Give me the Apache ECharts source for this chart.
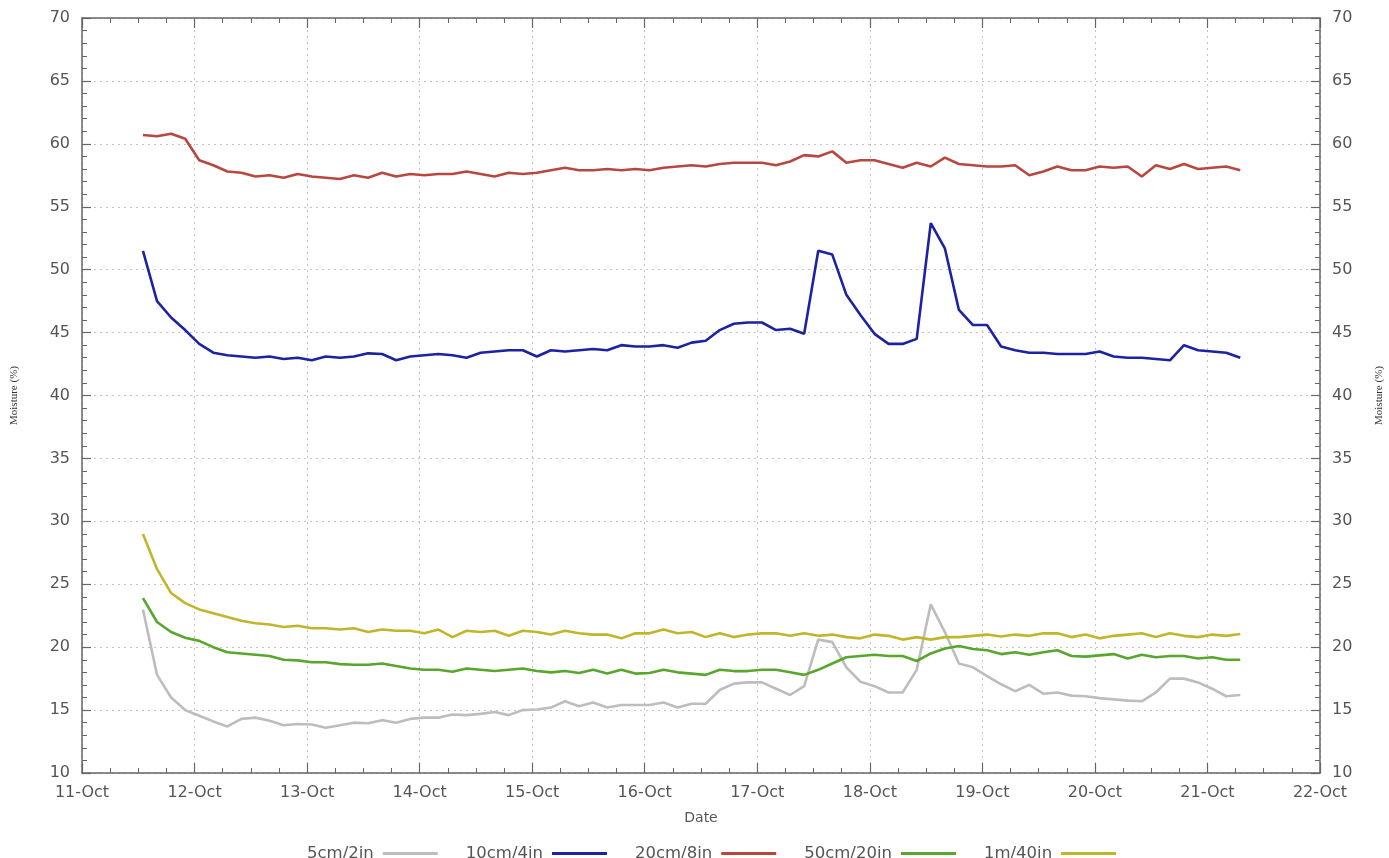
<!DOCTYPE html>
<html>
<head>
<meta charset="utf-8">
<script src="https://cdn.jsdelivr.net/npm/echarts@6/dist/echarts.min.js"></script>
<style>
  html, body { margin: 0; padding: 0; background: #fff; }
  #chart { width: 1389px; height: 858px; }
</style>
</head>
<body>
<div id="chart"></div>
<script>
  // samples every 3 hours, first one on 11-Oct 13:00
  const startDay = 11 + 13 / 24;
  const stepHours = 3;

  const dayTicks = ['11-Oct', '12-Oct', '13-Oct', '14-Oct', '15-Oct', '16-Oct',
    '17-Oct', '18-Oct', '19-Oct', '20-Oct', '21-Oct', '22-Oct'];

  const seriesNames = ['5cm/2in', '10cm/4in', '20cm/8in', '50cm/20in', '1m/40in'];
  const seriesColors = ['#bdbdbd', '#1c22a2', '#b8483f', '#58a62c', '#c1b62b'];

  const moist5cm = [
    23.0, 17.8, 16.0, 15.0, 14.55, 14.1, 13.7, 14.3, 14.4, 14.15,
    13.8, 13.9, 13.85, 13.6, 13.8, 14.0, 13.95, 14.2, 14.0, 14.3,
    14.4, 14.4, 14.65, 14.6, 14.7, 14.85, 14.6, 15.0, 15.05, 15.2,
    15.7, 15.3, 15.6, 15.2, 15.4, 15.4, 15.4, 15.6, 15.2, 15.5,
    15.5, 16.6, 17.1, 17.2, 17.2, 16.7, 16.2, 16.9, 20.6, 20.4,
    18.4, 17.25, 16.9, 16.4, 16.4, 18.2, 23.4, 21.2, 18.7, 18.4,
    17.7, 17.05, 16.5, 17.0, 16.3, 16.4, 16.15, 16.1, 15.95, 15.85,
    15.75, 15.7, 16.4, 17.5, 17.5, 17.2, 16.7, 16.1, 16.2
  ];
  const moist10cm = [
    51.5, 47.5, 46.2, 45.2, 44.1, 43.4, 43.2, 43.1, 43.0, 43.1,
    42.9, 43.0, 42.8, 43.1, 43.0, 43.1, 43.35, 43.3, 42.8, 43.1,
    43.2, 43.3, 43.2, 43.0, 43.4, 43.5, 43.6, 43.6, 43.1, 43.6,
    43.5, 43.6, 43.7, 43.6, 44.0, 43.9, 43.9, 44.0, 43.8, 44.2,
    44.35, 45.2, 45.7, 45.8, 45.8, 45.2, 45.3, 44.9, 51.5, 51.2,
    48.0, 46.4, 44.9, 44.1, 44.1, 44.5, 53.7, 51.7, 46.8, 45.6,
    45.6, 43.9, 43.6, 43.4, 43.4, 43.3, 43.3, 43.3, 43.5, 43.1,
    43.0, 43.0, 42.9, 42.8, 44.0, 43.6, 43.5, 43.4, 43.0
  ];
  const moist20cm = [
    60.7, 60.6, 60.8, 60.4, 58.7, 58.3, 57.8, 57.7, 57.4, 57.5,
    57.3, 57.6, 57.4, 57.3, 57.2, 57.5, 57.3, 57.7, 57.4, 57.6,
    57.5, 57.6, 57.6, 57.8, 57.6, 57.4, 57.7, 57.6, 57.7, 57.9,
    58.1, 57.9, 57.9, 58.0, 57.9, 58.0, 57.9, 58.1, 58.2, 58.3,
    58.2, 58.4, 58.5, 58.5, 58.5, 58.3, 58.6, 59.1, 59.0, 59.4,
    58.5, 58.7, 58.7, 58.4, 58.1, 58.5, 58.2, 58.9, 58.4, 58.3,
    58.2, 58.2, 58.3, 57.5, 57.8, 58.2, 57.9, 57.9, 58.2, 58.1,
    58.2, 57.4, 58.3, 58.0, 58.4, 58.0, 58.1, 58.2, 57.9
  ];
  const moist50cm = [
    23.9, 22.0, 21.2, 20.75, 20.5, 20.0, 19.6, 19.5, 19.4, 19.3,
    19.0, 18.95, 18.8, 18.8, 18.65, 18.6, 18.6, 18.7, 18.5, 18.3,
    18.2, 18.2, 18.05, 18.3, 18.2, 18.1, 18.2, 18.3, 18.1, 18.0,
    18.1, 17.95, 18.2, 17.9, 18.2, 17.9, 17.95, 18.2, 18.0, 17.9,
    17.8, 18.2, 18.1, 18.1, 18.2, 18.2, 18.0, 17.8, 18.2, 18.7,
    19.2, 19.3, 19.4, 19.3, 19.3, 18.9, 19.5, 19.9, 20.1, 19.85,
    19.75, 19.45, 19.6, 19.4, 19.6, 19.75, 19.3, 19.25, 19.35, 19.45,
    19.1, 19.4, 19.2, 19.3, 19.3, 19.1, 19.2, 19.0, 19.0
  ];
  const moist1m = [
    29.0, 26.2, 24.3, 23.5, 23.0, 22.7, 22.4, 22.1, 21.9, 21.8,
    21.6, 21.7, 21.5, 21.5, 21.4, 21.5, 21.2, 21.4, 21.3, 21.3,
    21.1, 21.4, 20.8, 21.3, 21.2, 21.3, 20.9, 21.3, 21.2, 21.0,
    21.3, 21.1, 21.0, 21.0, 20.7, 21.1, 21.1, 21.4, 21.1, 21.2,
    20.8, 21.1, 20.8, 21.0, 21.1, 21.1, 20.9, 21.1, 20.9, 21.0,
    20.8, 20.7, 21.0, 20.9, 20.6, 20.8, 20.6, 20.8, 20.8, 20.9,
    21.0, 20.85, 21.0, 20.9, 21.1, 21.1, 20.8, 21.0, 20.7, 20.9,
    21.0, 21.1, 20.8, 21.1, 20.9, 20.8, 21.0, 20.9, 21.05
  ];
  const allValues = [moist5cm, moist10cm, moist20cm, moist50cm, moist1m];

  const times = moist10cm.map((v, i) => startDay + i * stepHours / 24);

  const labelColor = '#555';
  const axisColor = '#666';

  function dayLabel(v) {
    const idx = Math.round(v) - 11;
    return dayTicks[idx] || '';
  }

  const xBase = {
    type: 'value',
    min: 11,
    max: 22,
    interval: 1,
    axisLine: { show: true, lineStyle: { color: axisColor, width: 1.5 } },
    axisTick: { show: true, inside: true, length: 10, lineStyle: { color: axisColor, width: 1.2 } },
    minorTick: { show: true, splitNumber: 4, length: 5, lineStyle: { color: axisColor, width: 1 } }
  };
  const yBase = {
    type: 'value',
    min: 10,
    max: 70,
    interval: 5,
    axisLine: { show: true, lineStyle: { color: axisColor, width: 1.5 } },
    axisTick: { show: true, inside: true, length: 9, lineStyle: { color: axisColor, width: 1.2 } },
    minorTick: { show: true, splitNumber: 5, length: 5, lineStyle: { color: axisColor, width: 1 } },
    axisLabel: { color: labelColor, fontSize: 16, fontFamily: 'DejaVu Sans', margin: 12 },
    name: 'Moisture (%)',
    nameLocation: 'middle',
    nameTextStyle: { color: '#333', fontSize: 11, fontFamily: 'Liberation Serif' }
  };

  const chart = echarts.init(document.getElementById('chart'));
  chart.setOption({
    animation: false,
    backgroundColor: '#fff',
    grid: { left: 82, right: 69, top: 18, bottom: 85, outerBoundsMode: 'none' },
    legend: {
      top: 840,
      left: 302,
      align: 'right',
      icon: 'rect',
      itemWidth: 55,
      itemHeight: 3,
      itemGap: 28,
      textStyle: { color: labelColor, fontSize: 16.5, fontFamily: 'DejaVu Sans', padding: [0, 4, 0, 0] },
      data: seriesNames
    },
    xAxis: [
      Object.assign({}, xBase, {
        position: 'bottom',
        axisLabel: { color: labelColor, fontSize: 16, fontFamily: 'DejaVu Sans', margin: 12, formatter: dayLabel },
        splitLine: { show: true, lineStyle: { color: '#c4c4c4', type: [2, 4], width: 1 } },
        name: 'Date',
        nameLocation: 'middle',
        nameGap: 38,
        nameTextStyle: { color: labelColor, fontSize: 14, fontFamily: 'DejaVu Sans' }
      }),
      Object.assign({}, xBase, {
        position: 'top',
        axisLabel: { show: false },
        splitLine: { show: false }
      })
    ],
    yAxis: [
      Object.assign({}, yBase, {
        position: 'left',
        nameGap: 62,
        splitLine: { show: true, lineStyle: { color: '#c4c4c4', type: [2, 4], width: 1 } }
      }),
      Object.assign({}, yBase, {
        position: 'right',
        nameGap: 54,
        nameRotate: 90,
        splitLine: { show: false }
      })
    ],
    series: seriesNames.map((name, k) => ({
      name: name,
      type: 'line',
      xAxisIndex: 0,
      yAxisIndex: 0,
      showSymbol: false,
      symbol: 'none',
      color: seriesColors[k],
      lineStyle: { width: 2.6, color: seriesColors[k] },
      data: times.map((t, i) => [t, allValues[k][i]])
    }))
  });
</script>
</body>
</html>
